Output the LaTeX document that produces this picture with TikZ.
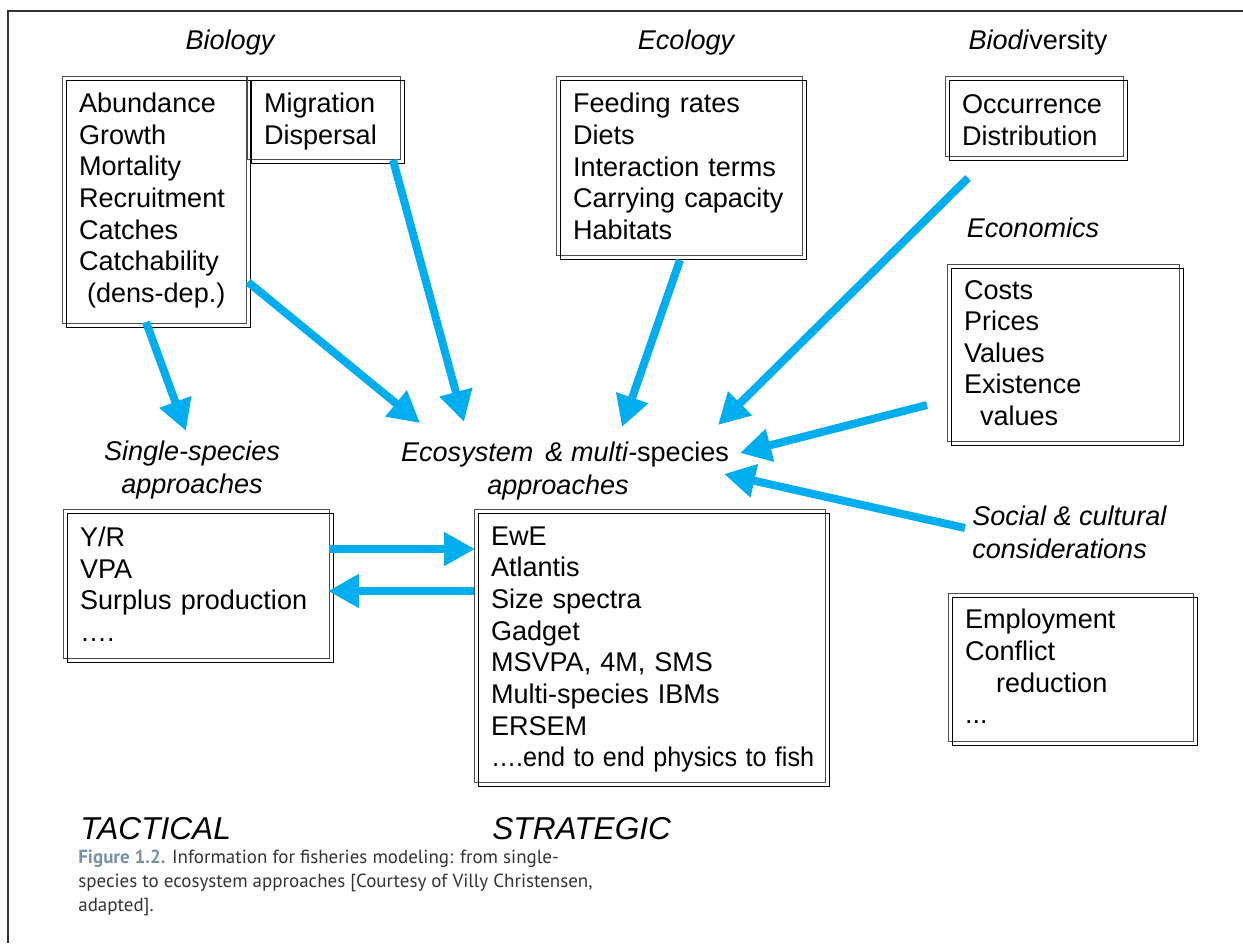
\documentclass[tikz,border=0pt]{standalone}
\usepackage{fontspec}
\setmainfont{Liberation Sans}
\newfontfamily\capfont{PT Sans}
\usetikzlibrary{arrows.meta,shadows}

\definecolor{flow}{HTML}{00AEEF}
\definecolor{frame}{HTML}{333333}
\definecolor{figlabel}{HTML}{7890A8}

\begin{document}
\begin{tikzpicture}[x=0.02cm,y=-0.02cm,
  box/.style={draw, align=left, inner xsep=0.26cm, inner ysep=0pt,
    copy shadow={shadow xshift=-0.08cm, shadow yshift=0.08cm, fill=none, draw=black!70},
    font=\fontsize{15.4}{18}\selectfont},
  head/.style={inner sep=0pt, font=\fontsize{15.4}{18.7}\selectfont\itshape},
  flowline/.style={flow, line width=0.16cm, -{Triangle[length=0.62cm,width=0.64cm]}}]
\useasboundingbox (0,0) rectangle (1243,943);
\draw[frame, line width=0.03cm] (1243,11) -- (8,11) -- (8,943);

\draw
% input boxes, top row
(158,203.5) node[box, text width=3.16cm, minimum height=4.94cm] (bio)
  {Abundance\\Growth\\Mortality\\Recruitment\\Catches\\Catchability\\\hspace*{0.16cm}(dens-dep.)\vspace*{0.12cm}}
(327.5,121.5) node[box, text width=2.54cm, minimum height=1.66cm] (mig) {Migration\\Dispersal}
(683,169.5) node[box, text width=4.40cm, minimum height=3.58cm] (eco)
  {Feeding rates\\Diets\\Interaction terms\\Carrying capacity\\Habitats\vspace*{0.12cm}}
(1038,120) node[box, text width=3.04cm, minimum height=1.60cm] (div) {Occurrence\\Distribution}
(1067,356.5) node[box, text width=4.12cm, minimum height=3.54cm] (econ)
  {Costs\\Prices\\Values\\Existence\\\hspace*{0.32cm}values\vspace*{0.14cm}}
(1074.5,671) node[box, text width=4.38cm, minimum height=2.96cm] (social)
  {Employment\\Conflict\\\hspace*{0.62cm}reduction\\...\vspace*{0.18cm}}
% model boxes
(200,587.5) node[box, text width=4.80cm, minimum height=2.98cm] (single)
  {Y/R\\VPA\\Surplus production\\….\vspace*{0.14cm}}
(653.5,649.5) node[box, text width=6.50cm, minimum height=5.46cm] (multi)
  {EwE\\Atlantis\\Size spectra\\Gadget\\MSVPA, 4M, SMS\\Multi-species IBMs\\ERSEM\\
   \scalebox{0.93}[1]{….end to end physics to fish}};

% headings
\draw
(230,43) node[head] (biolab) {Biology}
(686,43) node[head] (ecolab) {Ecology}
(1038,43) node[head] (divlab) {Biodi\textup{versity}}
(1033,228) node[head] (econlab) {Economics}
(972,532) node[head, anchor=west, align=left] (soclab) {Social \& cultural\\considerations}
(192,470) node[head, align=center] (singlelab) {Single-species\\approaches}
(565,454) node[head] (multilab) {Ecosystem \,\& multi-\textup{species}}
(558,487) node[head] (multilab2) {approaches}
(80,829) node[anchor=west, inner sep=0pt, font=\fontsize{18}{20}\selectfont\itshape] (tact) {TACTICAL}
(492,829) node[anchor=west, inner sep=0pt, font=\fontsize{18}{20}\selectfont\itshape] (strat) {STRATEGIC};

\node[anchor=north west, inner sep=0pt, align=left, text=frame,
  font=\capfont\fontsize{10.8}{13.6}\selectfont] (cap) at (78,850)
  {\textcolor{figlabel}{\bfseries Figure 1.2.} Information for fisheries modeling: from single-\\
   species to ecosystem approaches [Courtesy of Villy Christensen,\\
   adapted].};

% arrow ends
\coordinate (bioA) at (146,322);
\coordinate (bioB) at (248,282);
\coordinate (migA) at (393,160);
\coordinate (ecoA) at (680,260);
\coordinate (divA) at (968,178);
\coordinate (econA) at (927,405);
\coordinate (socA) at (965,528);
\coordinate (toSingle) at (186,431);
\coordinate (toMultiA) at (420,423);
\coordinate (toMultiB) at (464,422);
\coordinate (toMultiC) at (622,427);
\coordinate (toMultiD) at (718,425);
\coordinate (toMultiE) at (740,453);
\coordinate (toMultiF) at (724,474);
\coordinate (ssR) at (329,549);
\coordinate (msL) at (475,549);
\coordinate (msR) at (474,591);
\coordinate (ssL) at (328,591);

\draw[flowline] (bioA) -- (toSingle);
\draw[flowline] (bioB) -- (toMultiA);
\draw[flowline] (migA) -- (toMultiB);
\draw[flowline] (ecoA) -- (toMultiC);
\draw[flowline] (divA) -- (toMultiD);
\draw[flowline] (econA) -- (toMultiE);
\draw[flowline] (socA) -- (toMultiF);
\draw[flowline] (ssR) -- (msL);
\draw[flowline] (msR) -- (ssL);
\end{tikzpicture}
\end{document}
